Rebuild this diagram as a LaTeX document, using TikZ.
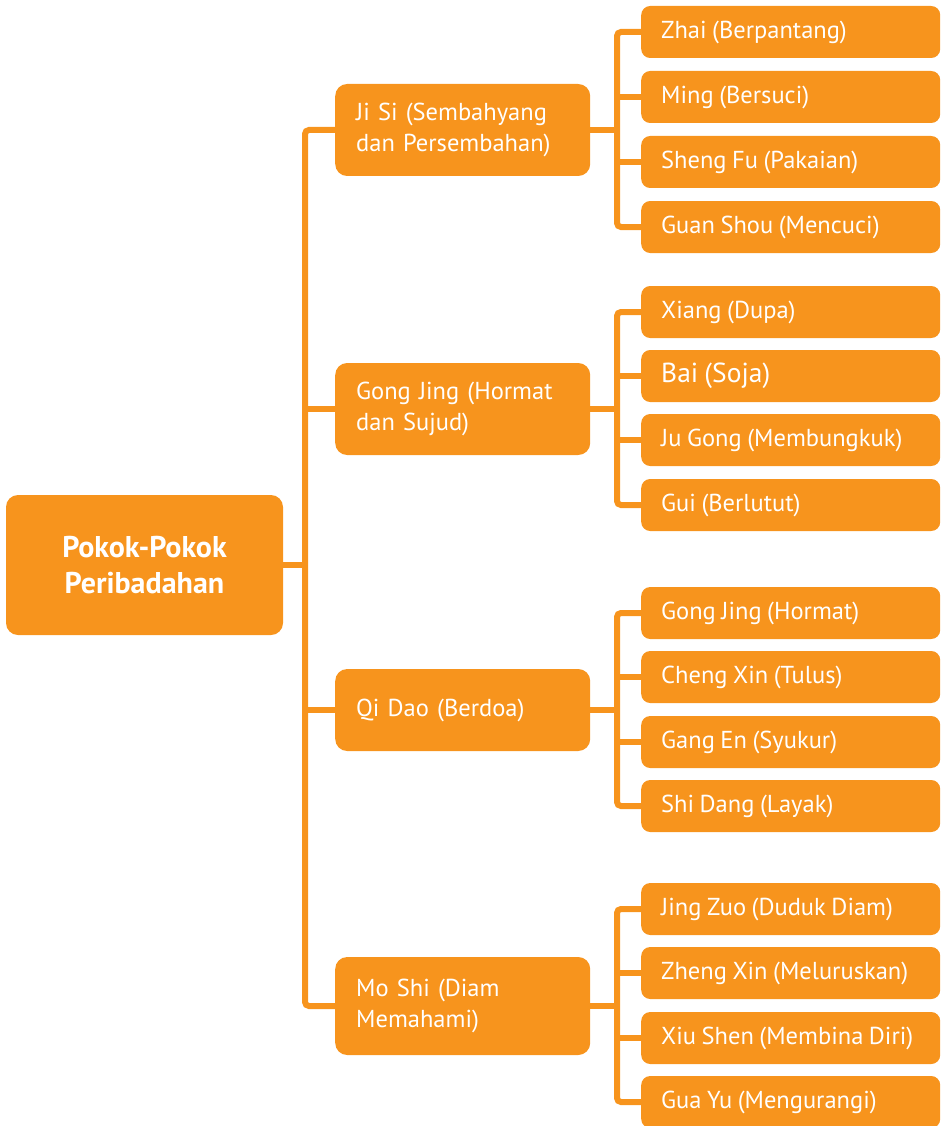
\documentclass[tikz,border=0pt]{standalone}
\usepackage{fontspec}
\setmainfont[WordSpace=0.85]{PT Sans}
\definecolor{oranye}{HTML}{F7941D}
\tikzset{
  pokok/.style={fill=oranye, rounded corners=12pt, text=white, inner sep=0pt,
    font=\bfseries\fontsize{30}{36}\selectfont, align=center,
    minimum width=277pt, minimum height=140pt},
  induk/.style={fill=oranye, rounded corners=12pt, text=white, anchor=west,
    font=\fontsize{24.5}{31}\selectfont, align=left, text width=213pt,
    inner xsep=21pt, inner ysep=0pt},
  anak/.style={fill=oranye, rounded corners=9pt, text=white, anchor=west,
    font=\fontsize{24.5}{28}\selectfont, inner xsep=20pt, inner ysep=0pt,
    minimum height=52pt},
  garis/.style={draw=oranye, line width=6pt, rounded corners=4pt}
}
\newcommand{\isian}[1]{\makebox[259pt][l]{#1}}
\begin{document}
\begin{tikzpicture}[x=1pt,y=-1pt]
\useasboundingbox (0,0) rectangle (940,1126);

\node (pokok) [pokok] at (144.5,565) {Pokok-Pokok\\Peribadahan};

\node (jisi) [induk, minimum height=92pt] at (335,130) {Ji Si (Sembahyang\\dan Persembahan)};
\node (gong) [induk, minimum height=92pt] at (335,409) {Gong Jing (Hormat\\dan Sujud)};
\node (qidao) [induk, minimum height=82pt] at (335,710) {Qi Dao (Berdoa)};
\node (mosi) [induk, minimum height=98pt] at (335,1006) {Mo Shi (Diam\\Memahami)};

\foreach \y/\teks [count=\i] in {32/Zhai (Berpantang), 97/Ming (Bersuci),
    162/Sheng Fu (Pakaian), 227/Guan Shou (Mencuci)}
  \node (jisi\i) [anak] at (641,\y) {\isian{\teks}};
\foreach \y/\teks [count=\i] in {312/Xiang (Dupa), 376/{\fontsize{27.5}{28}\selectfont Bai (Soja)},
    440/Ju Gong (Membungkuk), 505/Gui (Berlutut)}
  \node (gong\i) [anak] at (641,\y) {\isian{\teks}};
\foreach \y/\teks [count=\i] in {613/Gong Jing (Hormat), 677/Cheng Xin (Tulus),
    742/Gang En (Syukur), 806/Shi Dang (Layak)}
  \node (qidao\i) [anak] at (641,\y) {\isian{\teks}};
\foreach \y/\teks [count=\i] in {909/Jing Zuo (Duduk Diam), 973/Zheng Xin (Meluruskan),
    1038/Xiu Shen (Membina Diri), 1102/Gua Yu (Mengurangi)}
  \node (mosi\i) [anak] at (641,\y) {\isian{\teks}};

% batang utama
\draw [garis] (jisi.west) -- ++(-30,0) |- (mosi.west);
\draw [garis] (gong.west) -- ++(-30,0);
\draw [garis] (qidao.west) -- ++(-30,0);
\draw [garis] (pokok.east) -- ++(22,0);

% cabang
\foreach \n in {jisi,gong,qidao,mosi} {
  \draw [garis] (\n1.west) -- ++(-24,0) |- (\n4.west);
  \draw [garis] (\n2.west) -- ++(-24,0);
  \draw [garis] (\n3.west) -- ++(-24,0);
  \draw [garis] (\n.east) -- ++(27,0);
}
\end{tikzpicture}
\end{document}
